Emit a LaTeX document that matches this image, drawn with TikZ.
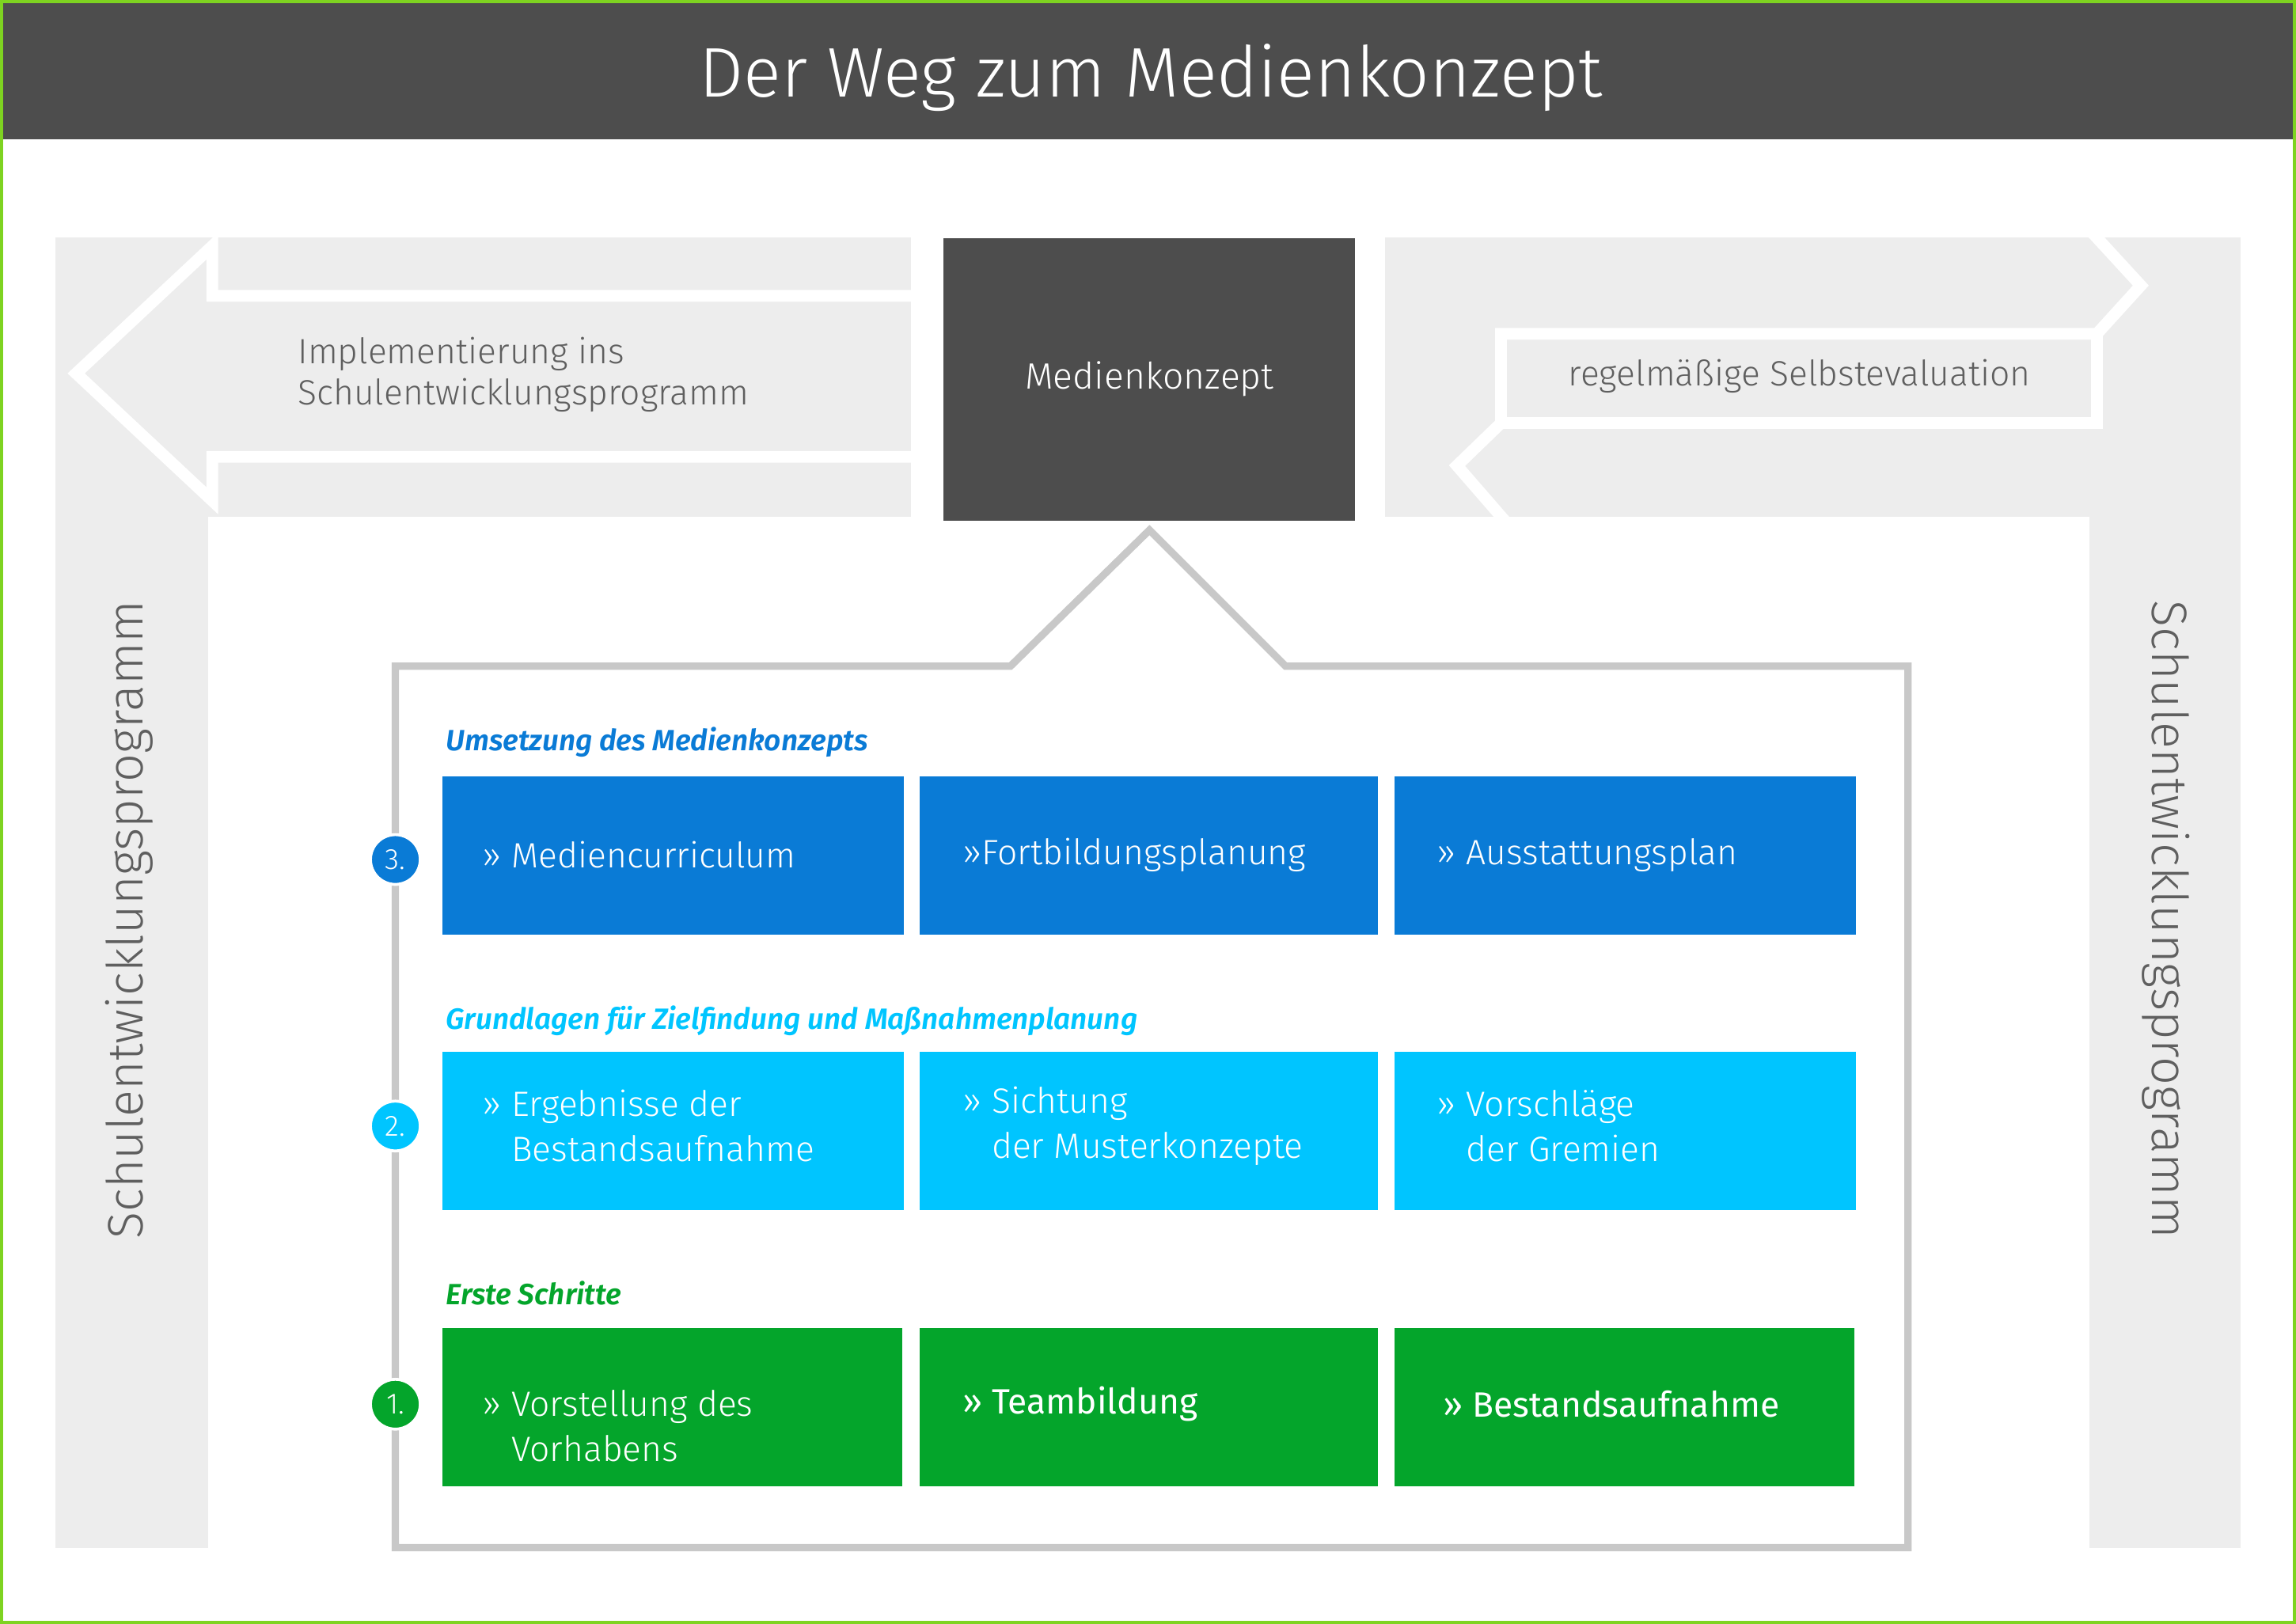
\documentclass[tikz,border=0pt]{standalone}
\usepackage{fontspec}
\setmainfont{Fira Sans Light}
\newfontfamily\boldf{Fira Sans}
\newfontfamily\headf{Fira Sans SemiBold Italic}
\definecolor{hdr}{HTML}{4D4D4D}
\definecolor{lg}{HTML}{EDEDED}
\definecolor{txg}{HTML}{5F5F5F}
\definecolor{cblue}{HTML}{0A7BD6}
\definecolor{ccyan}{HTML}{00C5FF}
\definecolor{cgreen}{HTML}{04A52B}
\definecolor{frame}{HTML}{C8C8C8}
\definecolor{bord}{HTML}{7ED321}
\tikzset{
 wl/.style={white,line width=8pt,line join=miter},
 cell/.style={anchor=north west,minimum width=314pt,minimum height=108pt,inner sep=0pt,text=white,font=\fontsize{24}{31}\selectfont},
 hd/.style={anchor=west,font=\headf\fontsize{20}{24}\selectfont},
 num/.style={circle,minimum size=34pt,inner sep=0pt,text=white,draw=white,line width=2pt,font=\fontsize{20}{24}\selectfont}
}
\begin{document}
\begin{tikzpicture}[x=1pt,y=-1pt]
\useasboundingbox (0,0) rectangle (1568,1109);
\fill[white] (0,0) rectangle (1568,1109);
\fill[hdr] (0,0) rectangle (1568,95);
\node[text=white,font=\fontsize{48}{56}\selectfont] (title) at (786,53) {Der Weg zum Medienkonzept};
% left arrow area
\fill[lg] (38,162) rectangle (142,1057);
\fill[lg] (38,162) rectangle (622,353);
\draw[wl] (626,202) -- (145,202) -- (145,168) -- (52,255) -- (145,342) -- (145,312) -- (626,312);
\node[anchor=west,text=txg,align=left,font=\fontsize{24}{28}\selectfont] (impl) at (200,256) {Implementierung ins\\Schulentwicklungsprogramm};
% right arrow area
\fill[lg] (1427,162) rectangle (1530,1057);
\fill[lg] (946,162) rectangle (1530,353);
\draw[wl] (1428,158) -- (1462,195) -- (1432,228) -- (1025,228) -- (1025,289) -- (995,318) -- (1028,356);
\draw[wl] (1025,289) -- (1432,289) -- (1432,228);
\node[text=txg,font=\fontsize{24}{28}\selectfont] (selbst) at (1229,257) {regelmäßige Selbstevaluation};
% vertical labels
\node[rotate=90,text=txg,font=\fontsize{34}{40}\selectfont] (sl) at (88,628) {Schulentwicklungsprogramm};
\node[rotate=-90,text=txg,font=\fontsize{34}{40}\selectfont] (sr) at (1479,628) {Schulentwicklungsprogramm};
% Medienkonzept
\node[fill=hdr,minimum width=281pt,minimum height=193pt,inner sep=0pt,text=white,font=\fontsize{25}{30}\selectfont] (mk) at (785,259) {Medienkonzept};
% callout frame
\draw[frame,line width=5pt] (270,455) -- (690,455) -- (785,362) -- (878,455) -- (1303,455) -- (1303,1057) -- (270,1057) -- cycle;
% row 3
\node[hd,text=cblue] (h3) at (301,507) {Umsetzung des Medienkonzepts};
\node[cell,fill=cblue,minimum width=315pt] (a3) at (302,530) {};
\node[anchor=west,text=white,font=\fontsize{24}{31}\selectfont] at (326,584) {» Mediencurriculum};
\node[cell,fill=cblue,minimum width=313pt] (b3) at (628,530) {};
\node[anchor=west,text=white,font=\fontsize{24}{31}\selectfont] at (654,584) {»Fortbildungsplanung};
\node[cell,fill=cblue,minimum width=315pt] (c3) at (952,530) {};
\node[anchor=west,text=white,font=\fontsize{24}{31}\selectfont] at (978,584) {» Ausstattungsplan};
\node[num,fill=cblue] (n3) at (270,587) {3.};
% row 2
\node[hd,text=ccyan] (h2) at (301,697) {Grundlagen für Zielfindung und Maßnahmenplanung};
\node[cell,fill=ccyan,minimum width=315pt] (a2) at (302,718) {};
\node[anchor=west,text=white,align=left,font=\fontsize{24}{31}\selectfont] at (326,769) {» Ergebnisse der\\\phantom{» }Bestandsaufnahme};
\node[cell,fill=ccyan,minimum width=313pt] (b2) at (628,718) {};
\node[anchor=west,text=white,align=left,font=\fontsize{24}{31}\selectfont] at (654,769) {» Sichtung\\\phantom{» }der Musterkonzepte};
\node[cell,fill=ccyan,minimum width=315pt] (c2) at (952,718) {};
\node[anchor=west,text=white,align=left,font=\fontsize{24}{31}\selectfont] at (978,769) {» Vorschläge\\\phantom{» }der Gremien};
\node[num,fill=ccyan] (n2) at (270,769) {2.};
% row 1
\node[hd,text=cgreen] (h1) at (301,883) {Erste Schritte};
\node[cell,fill=cgreen,minimum width=314pt] (a1) at (302,907) {};
\node[anchor=west,text=white,align=left,font=\fontsize{24}{31}\selectfont] at (326,974) {» Vorstellung des\\\phantom{» }Vorhabens};
\node[cell,fill=cgreen,minimum width=313pt] (b1) at (628,907) {};
\node[anchor=west,text=white,font=\boldf\fontsize{24}{31}\selectfont] at (654,959) {» Teambildung};
\node[cell,fill=cgreen,minimum width=314pt] (c1) at (952,907) {};
\node[anchor=west,text=white,font=\boldf\fontsize{24}{31}\selectfont] at (982,959) {» Bestandsaufnahme};
\node[num,fill=cgreen] (n1) at (270,959) {1.};
% border
\draw[bord,line width=2pt] (1,1) rectangle (1567,1108);
\end{tikzpicture}
\end{document}
